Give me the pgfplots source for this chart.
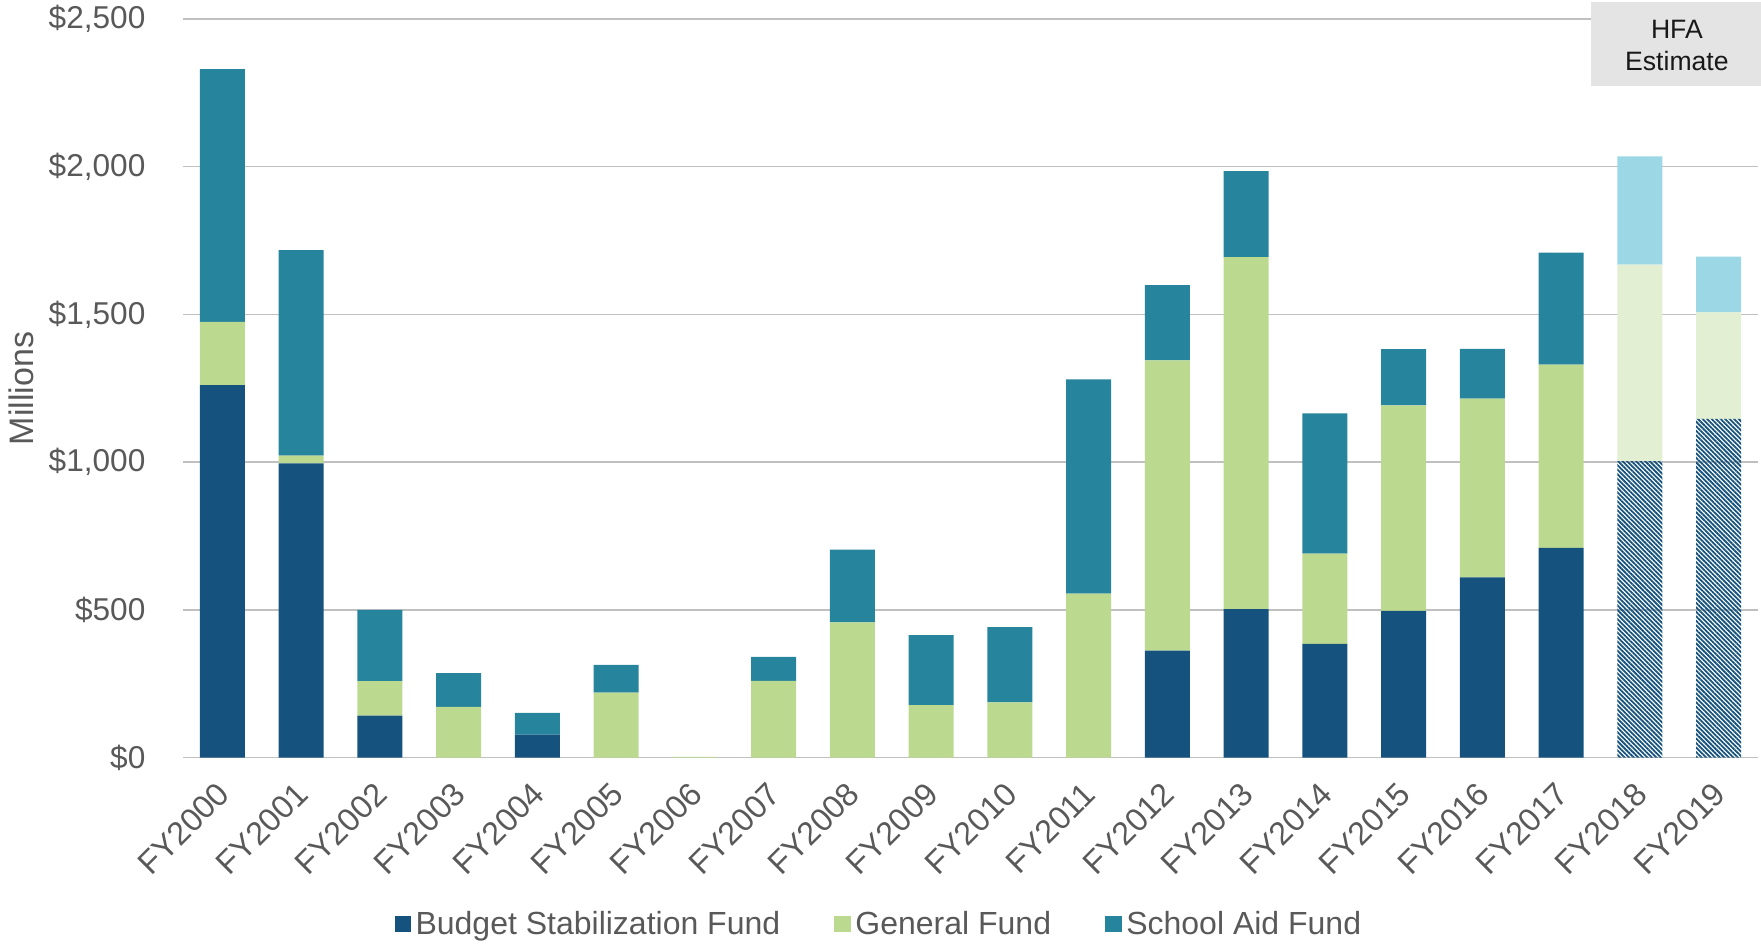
\documentclass[border=0pt]{standalone}
\usepackage{fontspec}
\setmainfont{Liberation Sans}
\usepackage{pgfplots}
\usepackage{pgfplotstable}
\pgfplotsset{compat=1.18}
\usetikzlibrary{patterns.meta}

\definecolor{bsf}{RGB}{22,82,126}
\definecolor{gf}{RGB}{187,218,144}
\definecolor{saf}{RGB}{38,132,157}
\definecolor{gfest}{RGB}{226,239,211}
\definecolor{safest}{RGB}{156,215,230}
\definecolor{gridgray}{RGB}{192,192,192}
\definecolor{textgray}{RGB}{89,89,89}
\definecolor{boxgray}{RGB}{228,228,228}

\newcommand\lbl{\fontsize{15.8pt}{19pt}\selectfont}

% Reserve balances by fund, $ millions; FY2018-FY2019 are estimates
\pgfplotstableread{
x  bsf   gf    saf  bsfE  gfE  safE
0  1261  214   855  0     0    0
1  996   26    696  0     0    0
2  142   117   241  0     0    0
3  0     172   114  0     0    0
4  78    0     74   0     0    0
5  0     220   94   0     0    0
6  0     3     0    0     0    0
7  0     260   81   0     0    0
8  0     458   246  0     0    0
9  0     178   237  0     0    0
10 0     187   255  0     0    0
11 0     555   725  0     0    0
12 362   983   254  0     0    0
13 503   1191  291  0     0    0
14 385   306   474  0     0    0
15 497   695   191  0     0    0
16 610   605   169  0     0    0
17 710   620   379  0     0    0
18 0     0     0    1004  665  366
19 0     0     0    1147  360  189
}\funds

\begin{document}
\begin{tikzpicture}
\begin{axis}[
  at={(0pt,0pt)}, anchor=south west,
  scale only axis, width=787.5pt, height=369.35pt,
  ybar stacked, bar width=0.57,
  xmin=-0.5, xmax=19.5, ymin=0, ymax=2500,
  clip=false,
  xtick={0,...,19},
  xticklabels={FY2000,FY2001,FY2002,FY2003,FY2004,FY2005,FY2006,FY2007,FY2008,FY2009,
               FY2010,FY2011,FY2012,FY2013,FY2014,FY2015,FY2016,FY2017,FY2018,FY2019},
  ytick={0,500,1000,1500,2000,2500},
  yticklabels={\$0,\$500,{\$1,000},{\$1,500},{\$2,000},{\$2,500}},
  ymajorgrids, grid style={draw=gridgray, line width=0.75pt},
  axis line style={draw=none}, major tick length=0pt, tick style={draw=none},
  tick label style={font=\lbl, text=textgray},
  yticklabel style={inner sep=0pt, xshift=-18.6pt},
  xticklabel style={xshift=-3.5pt, yshift=-11.1pt, rotate=45, anchor=north east,
    inner sep=0pt, font=\fontsize{16.2pt}{19pt}\selectfont},
  ylabel={Millions},
  every axis y label/.style={at={(rel axis cs:0,0.5)}, xshift=-81pt, rotate=90,
    anchor=center, font=\fontsize{17pt}{20pt}\selectfont, text=textgray},
  legend image code/.code={\fill[#1] (0pt,-4.2pt) rectangle (8.4pt,4.2pt);},
  legend style={at={(0.4425,-0.2251)}, anchor=center, legend columns=3,
    draw=none, fill=none, font=\fontsize{16pt}{19pt}\selectfont, text=textgray,
    inner sep=0pt, nodes={inner sep=2.1pt},
    /tikz/every even column/.append style={column sep=25pt}},
]
\addplot[fill=bsf, draw=none] table[x=x, y=bsf] {\funds};
\addplot[fill=gf, draw=none] table[x=x, y=gf] {\funds};
\addplot[fill=saf, draw=none] table[x=x, y=saf] {\funds};
\addplot[forget plot, draw=none,
  pattern={Lines[angle=-45, distance=1.6pt, line width=0.9pt]}, pattern color=bsf]
  table[x=x, y=bsfE] {\funds};
\addplot[forget plot, fill=gfest, draw=none] table[x=x, y=gfE] {\funds};
\addplot[forget plot, fill=safest, draw=none] table[x=x, y=safE] {\funds};
\legend{Budget Stabilization Fund, General Fund, School Aid Fund}

% corners and centre of the estimate banner over the last two fiscal years
\coordinate (hfaSW) at (axis cs:17.38,2274);
\coordinate (hfaNE) at (axis cs:19.54,2558);
\coordinate (hfaC)  at (axis cs:18.47,2410);
\end{axis}
\fill[boxgray] (hfaSW) rectangle (hfaNE);
\node[align=center, font=\fontsize{13.3pt}{16pt}\selectfont, text=black!90]
  at (hfaC) {HFA\\Estimate};
\pgfresetboundingbox
\useasboundingbox (-91.5pt,-92.65pt) rectangle (789pt,378.85pt);
\end{tikzpicture}
\end{document}
